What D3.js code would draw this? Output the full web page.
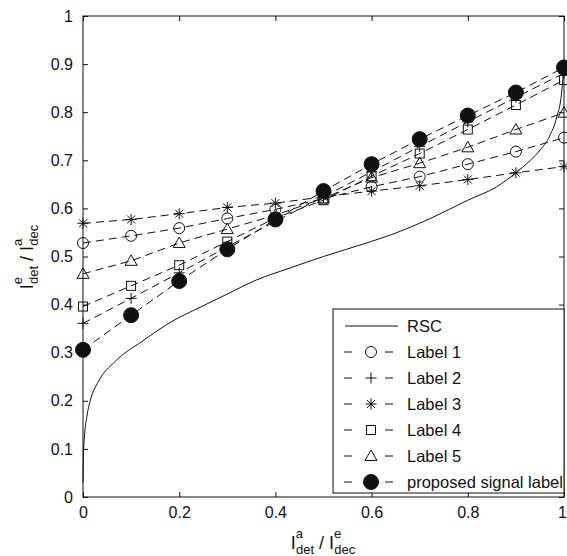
<!DOCTYPE html>
<html>
<head>
<meta charset="utf-8">
<script src="https://cdn.jsdelivr.net/npm/d3@7"></script>
<style>
  html, body { margin: 0; padding: 0; background: #fff; }
  svg { display: block; }
  text { font-family: "Liberation Sans", Arial, Helvetica, sans-serif; fill: #111; }
</style>
</head>
<body>
<svg id="chart" width="567" height="556"></svg>
<script>
// Sample positions along the x axis
const xValues = [0, 0.1, 0.2, 0.3, 0.4, 0.5, 0.6, 0.7, 0.8, 0.9, 1.0];

// Marker series
const label1 = [0.528, 0.543, 0.559, 0.579, 0.598, 0.620, 0.645, 0.666, 0.692, 0.718, 0.747];
const label2 = [0.361, 0.413, 0.466, 0.520, 0.573, 0.624, 0.676, 0.729, 0.780, 0.831, 0.881];
const label3 = [0.569, 0.577, 0.589, 0.602, 0.611, 0.624, 0.636, 0.647, 0.660, 0.674, 0.687];
const label4 = [0.396, 0.439, 0.482, 0.531, 0.580, 0.617, 0.667, 0.714, 0.764, 0.815, 0.867];
const label5 = [0.464, 0.491, 0.528, 0.557, 0.586, 0.621, 0.664, 0.694, 0.727, 0.764, 0.799];
const proposed = [0.306, 0.378, 0.449, 0.515, 0.577, 0.636, 0.692, 0.744, 0.793, 0.841, 0.893];

// RSC reference curve
const rscX = [0, 0.001, 0.003, 0.008, 0.015, 0.032, 0.066, 0.122, 0.19, 0.23, 0.3, 0.36, 0.43, 0.5, 0.57, 0.64, 0.72, 0.8, 0.86, 0.9, 0.93, 0.95, 0.97, 0.985, 0.995, 1.0];
const rscY = [0.03, 0.09, 0.125, 0.167, 0.2, 0.24, 0.281, 0.323, 0.368, 0.388, 0.422, 0.451, 0.476, 0.5, 0.522, 0.545, 0.578, 0.617, 0.645, 0.674, 0.700, 0.721, 0.750, 0.790, 0.840, 0.900];

// Axis ticks
const xTicks = [0, 0.2, 0.4, 0.6, 0.8, 1];
const yTicks = [0, 0.1, 0.2, 0.3, 0.4, 0.5, 0.6, 0.7, 0.8, 0.9, 1];

const legendNames = ["RSC", "Label 1", "Label 2", "Label 3", "Label 4", "Label 5", "proposed signal label"];

const svg = d3.select("#chart");
const margin = { left: 83, top: 16 };
const W = 481, H = 481;

const x = d3.scaleLinear().domain([0, 1]).range([margin.left, margin.left + W]);
const y = d3.scaleLinear().domain([0, 1]).range([margin.top + H, margin.top]);

const ink = "#111";

// Axes with inward ticks on all four sides
const fmt = d => (d === 0 || d === 1) ? String(d) : d3.format(".1f")(d);
const axB = svg.append("g").attr("transform", `translate(0,${margin.top + H})`)
  .call(d3.axisBottom(x).tickValues(xTicks).tickFormat(fmt).tickSizeInner(-5).tickSizeOuter(0).tickPadding(10));
const axT = svg.append("g").attr("transform", `translate(0,${margin.top})`)
  .call(d3.axisTop(x).tickValues(xTicks).tickFormat("").tickSizeInner(-5).tickSizeOuter(0));
const axL = svg.append("g").attr("transform", `translate(${margin.left},0)`)
  .call(d3.axisLeft(y).tickValues(yTicks).tickFormat(fmt).tickSizeInner(-5).tickSizeOuter(0).tickPadding(10));
const axR = svg.append("g").attr("transform", `translate(${margin.left + W},0)`)
  .call(d3.axisRight(y).tickValues(yTicks).tickFormat("").tickSizeInner(-5).tickSizeOuter(0));
[axB, axT, axL, axR].forEach(a => {
  a.select(".domain").remove();
  a.selectAll(".tick line").attr("stroke", ink).attr("stroke-width", 1);
  a.selectAll(".tick text").attr("font-size", 16).attr("fill", ink)
    .attr("font-family", "'Liberation Sans', Arial, sans-serif");
});
// keep the rightmost x label inside the canvas
axB.selectAll(".tick text").filter(d => d === 1).attr("dx", -2);

// Series lines and markers
const lineGen = d3.line().x(d => x(d[0])).y(d => y(d[1]));
const plotG = svg.append("g");

// RSC solid curve
plotG.append("path")
  .datum(rscX.map((v, i) => [v, rscY[i]]))
  .attr("d", d3.line().x(d => x(d[0])).y(d => y(d[1])).curve(d3.curveMonotoneX))
  .attr("fill", "none").attr("stroke", ink).attr("stroke-width", 1);

function drawMarker(g, type, cx, cy) {
  const s = ink;
  if (type === "circle") {
    g.append("circle").attr("cx", cx).attr("cy", cy).attr("r", 5.5)
      .attr("fill", "none").attr("stroke", s).attr("stroke-width", 1);
  } else if (type === "plus") {
    g.append("path").attr("d", `M${cx - 5.5},${cy}H${cx + 5.5}M${cx},${cy - 5.5}V${cy + 5.5}`)
      .attr("stroke", s).attr("stroke-width", 1);
  } else if (type === "star") {
    const r = 5.5, d = 4;
    g.append("path").attr("d",
      `M${cx - r},${cy}H${cx + r}M${cx},${cy - r}V${cy + r}M${cx - d},${cy - d}L${cx + d},${cy + d}M${cx - d},${cy + d}L${cx + d},${cy - d}`)
      .attr("stroke", s).attr("stroke-width", 1);
  } else if (type === "square") {
    g.append("rect").attr("x", cx - 4.5).attr("y", cy - 4.5).attr("width", 9).attr("height", 9)
      .attr("fill", "none").attr("stroke", s).attr("stroke-width", 1);
  } else if (type === "triangle") {
    g.append("path").attr("d", `M${cx},${cy - 6}L${cx + 6},${cy + 4.5}L${cx - 6},${cy + 4.5}Z`)
      .attr("fill", "none").attr("stroke", s).attr("stroke-width", 1);
  } else if (type === "filled") {
    g.append("circle").attr("cx", cx).attr("cy", cy).attr("r", 7.5)
      .attr("fill", ink).attr("stroke", ink).attr("stroke-width", 1);
  }
}

const series = [
  { vals: label1, type: "circle" },
  { vals: label2, type: "plus" },
  { vals: label3, type: "star" },
  { vals: label4, type: "square" },
  { vals: label5, type: "triangle" },
  { vals: proposed, type: "filled" }
];

series.forEach(sr => {
  const g = plotG.append("g");
  g.append("path")
    .datum(xValues.map((v, i) => [v, sr.vals[i]]))
    .attr("d", lineGen)
    .attr("fill", "none").attr("stroke", ink).attr("stroke-width", 1)
    .attr("stroke-dasharray", "8,5");
  xValues.forEach((v, i) => drawMarker(g, sr.type, x(v), y(sr.vals[i])));
});

// Plot frame
svg.append("rect")
  .attr("x", margin.left).attr("y", margin.top).attr("width", W).attr("height", H)
  .attr("fill", "none").attr("stroke", ink).attr("stroke-width", 1);

// Legend
const lg = svg.append("g");
const lx0 = 333, ly0 = 309, lw = 231, lh = 184;
lg.append("rect").attr("x", lx0).attr("y", ly0).attr("width", lw).attr("height", lh)
  .attr("fill", "#fff").attr("stroke", ink).attr("stroke-width", 1);
const rowY = i => 326 + i * 26;
legendNames.forEach((name, i) => {
  const yy = rowY(i);
  if (i === 0) {
    lg.append("line").attr("x1", 345).attr("x2", 398).attr("y1", yy).attr("y2", yy)
      .attr("stroke", ink).attr("stroke-width", 1);
  } else {
    lg.append("line").attr("x1", 344).attr("x2", 352).attr("y1", yy).attr("y2", yy)
      .attr("stroke", ink).attr("stroke-width", 1);
    lg.append("line").attr("x1", 385).attr("x2", 393).attr("y1", yy).attr("y2", yy)
      .attr("stroke", ink).attr("stroke-width", 1);
    drawMarker(lg, series[i - 1].type, 371, yy);
  }
  lg.append("text").attr("x", 407).attr("y", yy).attr("dy", "0.36em")
    .attr("font-size", 16.5).text(name);
});

// Axis titles with sub/superscripts
const xl = svg.append("text").attr("x", 323).attr("y", 549).attr("text-anchor", "middle");
xl.append("tspan").attr("font-size", 18).text("I");
xl.append("tspan").attr("font-size", 13).attr("dy", -11).text("a");
xl.append("tspan").attr("font-size", 13).attr("dx", -7).attr("dy", 16).text("det");
xl.append("tspan").attr("font-size", 18).attr("dy", -5).text(" / I");
xl.append("tspan").attr("font-size", 13).attr("dy", -11).text("e");
xl.append("tspan").attr("font-size", 13).attr("dx", -7).attr("dy", 16).text("dec");

const yl = svg.append("text").attr("transform", "translate(33,257) rotate(-90)").attr("text-anchor", "middle");
yl.append("tspan").attr("font-size", 18).text("I");
yl.append("tspan").attr("font-size", 13).attr("dy", -11).text("e");
yl.append("tspan").attr("font-size", 13).attr("dx", -7).attr("dy", 16).text("det");
yl.append("tspan").attr("font-size", 18).attr("dy", -5).text(" / I");
yl.append("tspan").attr("font-size", 13).attr("dy", -11).text("a");
yl.append("tspan").attr("font-size", 13).attr("dx", -7).attr("dy", 16).text("dec");
</script>
</body>
</html>
